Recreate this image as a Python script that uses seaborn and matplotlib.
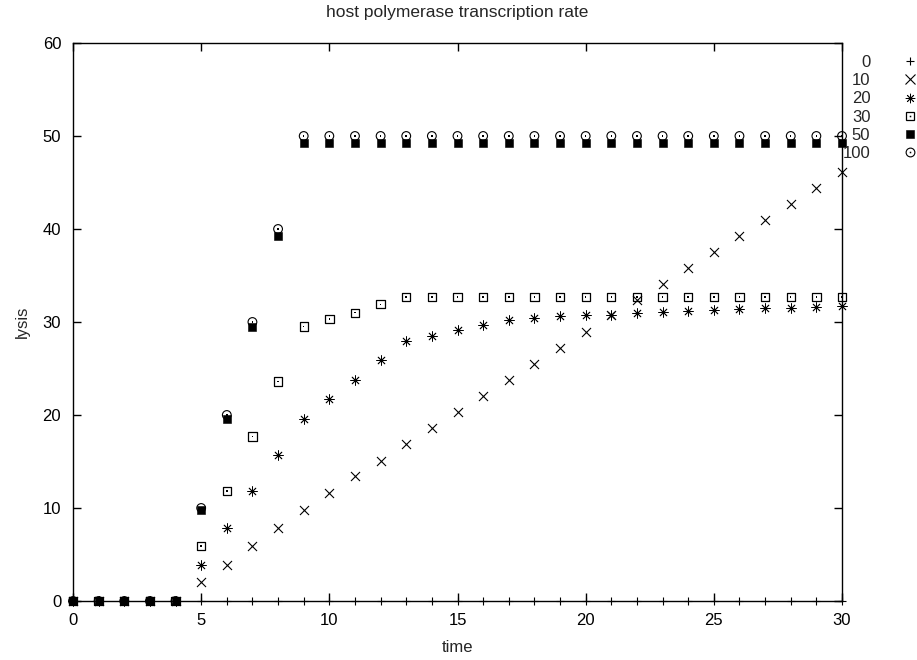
import numpy as np
import pandas as pd
import matplotlib
matplotlib.use("Agg")
import matplotlib.pyplot as plt
import matplotlib.lines as mlines
import seaborn as sns

# ---- data ----
time = [0, 1, 2, 3, 4, 5, 6, 7, 8, 9, 10, 11, 12, 13, 14, 15, 16, 17, 18, 19,
        20, 21, 22, 23, 24, 25, 26, 27, 28, 29, 30]
s0 = [0, 0, 0, 0, 0, 0, 0, 0, 0, 0, 0, 0, 0, 0, 0, 0, 0, 0, 0, 0,
      0, 0, 0, 0, 0, 0, 0, 0, 0, 0, 0]
s10 = [0, 0, 0, 0, 0, 2.0, 3.9, 5.9, 7.8, 9.8, 11.6, 13.4, 15.1, 16.9, 18.6,
       20.3, 22.0, 23.8, 25.5, 27.2, 28.9, 30.7, 32.4, 34.1, 35.8, 37.5, 39.2,
       41.0, 42.7, 44.4, 46.1]
s20 = [0, 0, 0, 0, 0, 3.9, 7.9, 11.8, 15.7, 19.6, 21.7, 23.8, 25.9, 28.0, 28.5,
       29.1, 29.7, 30.2, 30.4, 30.6, 30.7, 30.8, 31.0, 31.1, 31.2, 31.3, 31.4,
       31.5, 31.55, 31.65, 31.75]
s30 = [0, 0, 0, 0, 0, 5.9, 11.8, 17.7, 23.6, 29.5, 30.3, 31.0, 31.9, 32.7, 32.7,
       32.7, 32.7, 32.7, 32.7, 32.7, 32.7, 32.7, 32.7, 32.7, 32.7, 32.7, 32.7,
       32.7, 32.7, 32.7, 32.7]
s50 = [0, 0, 0, 0, 0, 9.8, 19.6, 29.5, 39.3, 49.2, 49.2, 49.2, 49.2, 49.2, 49.2,
       49.2, 49.2, 49.2, 49.2, 49.2, 49.2, 49.2, 49.2, 49.2, 49.2, 49.2, 49.2,
       49.2, 49.2, 49.2, 49.2]
s100 = [0, 0, 0, 0, 0, 10, 20, 30, 40, 50, 50, 50, 50, 50, 50, 50, 50, 50, 50,
        50, 50, 50, 50, 50, 50, 50, 50, 50, 50, 50, 50]
labels = ["0", "10", "20", "30", "50", "100"]
xticks = [0, 5, 10, 15, 20, 25, 30]
yticks = [0, 10, 20, 30, 40, 50, 60]

FS = 12

sns.set_style("ticks")
plt.rcParams["font.family"] = ["Liberation Sans", "DejaVu Sans"]
plt.rcParams["font.size"] = FS

fig = plt.figure(figsize=(9.17, 6.6), dpi=100)
ax = fig.add_axes([73 / 917, 1 - 601 / 660, (842 - 73) / 917, (601 - 43) / 660])

asterisk = (8, 2, 0)

# marker specs: (marker, size pt, filled, center dot, edge width)
specs = [
    ("+", 6.0, True, False, 0.8),
    ("x", 6.5, True, False, 0.8),
    (asterisk, 6.8, True, False, 0.6),
    ("s", 6.0, False, True, 0.9),
    ("s", 6.2, True, False, 0.4),
    ("o", 6.3, False, True, 0.8),
]
series = [s0, s10, s20, s30, s50, s100]

handles = []
for vals, lab, (mk, ms, filled, dot, lw) in zip(series, labels, specs):
    df = pd.DataFrame({"time": time, "lysis": vals})
    sns.scatterplot(data=df, x="time", y="lysis", ax=ax, marker=mk,
                    s=ms ** 2, facecolor="black" if filled else "none",
                    edgecolor="black", linewidth=lw, zorder=3, clip_on=False)
    h = mlines.Line2D([], [], linestyle="none", marker=mk, markersize=ms,
                      markerfacecolor="black" if filled else "none",
                      markeredgecolor="black", markeredgewidth=lw)
    if dot:
        sns.scatterplot(data=df, x="time", y="lysis", ax=ax, marker="s",
                        s=1.2, facecolor="black", edgecolor="none",
                        linewidth=0, zorder=4, clip_on=False)
        hd = mlines.Line2D([], [], linestyle="none", marker="s", markersize=1.1,
                           markerfacecolor="black", markeredgecolor="none")
        handles.append((h, hd))
    else:
        handles.append(h)

ax.set_xlim(0, 30)
ax.set_ylim(0, 60)
ax.set_xticks(xticks)
ax.set_yticks(yticks)
ax.set_xticklabels([str(v) for v in xticks])
ax.set_yticklabels([str(v) for v in yticks])
ax.tick_params(direction="in", length=6, width=1, top=True, right=True,
               labelsize=FS, colors="black")
ax.tick_params(axis="x", pad=8.5)
ax.tick_params(axis="y", pad=8.5)
for sp in ax.spines.values():
    sp.set_visible(True)
    sp.set_color("black")
    sp.set_linewidth(1.0)
ax.set_xlabel("")
ax.set_ylabel("")

fig.text((73 + 842) / 2 / 917, 1 - 13 / 660, "host polymerase transcription rate",
         ha="center", va="center", fontsize=12.5)
fig.text((73 + 842) / 2 / 917, 1 - 648 / 660, "time", ha="center", va="center",
         fontsize=FS)
fig.text(22 / 917, 1 - 322 / 660, "lysis", ha="center", va="center",
         rotation=90, fontsize=FS)

fig.legend(handles, labels, loc="upper right",
           bbox_to_anchor=(1.0, 1 - 55 / 660), borderpad=0, borderaxespad=0,
           handlelength=0.9, handletextpad=1.9, labelspacing=0.19,
           markerfirst=False, frameon=False, fontsize=FS)

fig.savefig("out.png", dpi=100)
